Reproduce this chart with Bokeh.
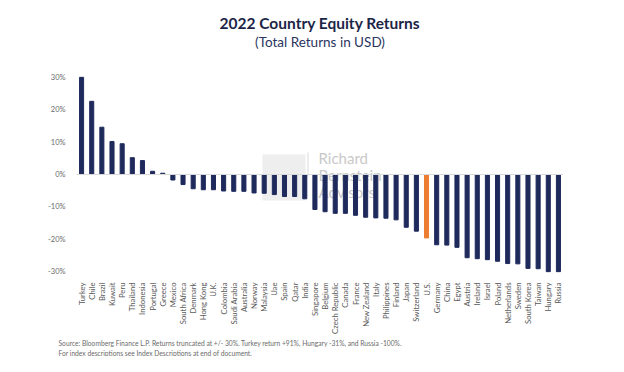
from bokeh.plotting import figure
from bokeh.models import (ColumnDataSource, FixedTicker, PrintfTickFormatter,
                          Span, Label, BoxAnnotation, Title)
from bokeh.embed import file_html
from bokeh.resources import INLINE
import math

countries = ["Turkey", "Chile", "Brazil", "Kuwait", "Peru", "Thailand", "Indonesia",
             "Portugal", "Greece", "Mexico", "South Africa", "Denmark", "Hong Kong",
             "U.K.", "Colombia", "Saudi Arabia", "Australia", "Norway", "Malaysia",
             "Uae", "Spain", "Qatar", "India", "Singapore", "Belgium", "Czech Republic",
             "Canada", "France", "New Zealand", "Italy", "Philippines", "Finland",
             "Japan", "Switzerland", "U.S.", "Germany", "China", "Egypt", "Austria",
             "Ireland", "Israel", "Poland", "Netherlands", "Sweden", "South Korea",
             "Taiwan", "Hungary", "Russia"]
returns = [30.0, 22.6, 14.6, 10.2, 9.5, 5.2, 4.3,
           1.0, 0.4, -1.7, -3.1, -4.4, -4.7,
           -4.7, -5.1, -5.2, -5.2, -5.7, -5.8,
           -6.2, -6.8, -6.8, -7.5, -10.8, -11.5, -12.0,
           -12.0, -12.6, -13.2, -13.4, -13.5, -14.0,
           -16.3, -17.5, -19.6, -21.7, -21.8, -22.5, -25.7,
           -26.0, -26.3, -26.8, -27.5, -27.6, -29.0,
           -29.1, -30.0, -30.0]
highlight = "U.S."
y_ticks = [-30, -20, -10, 0, 10, 20, 30]

title_text = "2022 Country Equity Returns"
subtitle_text = "(Total Returns in USD)"
note1 = "Source: Bloomberg Finance L.P. Returns truncated at +/- 30%. Turkey return +91%, Hungary -31%, and Russia -100%."
note2 = "For index descriptions see Index Descriptions at end of document."
watermark = ["Richard", "Bernstein", "Advisors"]

NAVY = "#1F2A5C"
ORANGE = "#ED7D31"
FONT = "Lato"

colors = [ORANGE if c == highlight else NAVY for c in countries]
src = ColumnDataSource(dict(country=countries, ret=returns, color=colors))

p = figure(x_range=countries, y_range=(-31.5, 31.5), width=608, height=356,
           output_backend="svg", toolbar_location=None,
           min_border_left=76, min_border_right=45, min_border_top=72,
           min_border_bottom=80)
p.x_range.range_padding = 0
p.outline_line_color = None
p.grid.visible = False
p.background_fill_color = "white"

# watermark (underlay, behind bars)
p.add_layout(BoxAnnotation(left=186, right=229, bottom=76, top=122,
                           left_units="screen", right_units="screen",
                           bottom_units="screen", top_units="screen",
                           fill_color="#e2e2e2", fill_alpha=0.6, line_color=None,
                           level="underlay"))
p.add_layout(BoxAnnotation(left=231, right=232, bottom=100, top=124,
                           left_units="screen", right_units="screen",
                           bottom_units="screen", top_units="screen",
                           fill_color="#d0d0d0", fill_alpha=0.8, line_color=None,
                           level="underlay"))
for i, w in enumerate(watermark):
    p.add_layout(Label(x=242, y=110 - i * 17, text=w, x_units="screen",
                       y_units="screen", text_font=FONT, text_color="#c9c9c9",
                       text_font_size="15px", level="underlay"))

p.vbar(x="country", top="ret", bottom=0, width=0.4, color="color", source=src)

p.add_layout(Span(location=0, dimension="width", line_color="#d9d9d9", line_width=1))

p.yaxis.ticker = FixedTicker(ticks=y_ticks)
p.yaxis.formatter = PrintfTickFormatter(format="%d%%")
p.yaxis.axis_line_color = None
p.yaxis.major_tick_line_color = None
p.yaxis.minor_tick_line_color = None
p.yaxis.major_label_text_font = FONT
p.yaxis.major_label_text_font_size = "7.5px"
p.yaxis.major_label_text_color = "#6b6b6b"
p.yaxis.major_label_standoff = 5

p.xaxis.axis_line_color = None
p.xaxis.major_tick_line_color = None
p.xaxis.major_label_orientation = math.pi / 2
p.xaxis.major_label_text_font = FONT
p.xaxis.major_label_text_font_size = "7.7px"
p.xaxis.major_label_text_color = "#595959"
p.xaxis.major_label_standoff = 0

def spacer(s):
    return Title(text=" ", text_font_size="1px", standoff=s)

# above: first added is nearest the frame
p.add_layout(spacer(20), "above")
p.add_layout(Title(text=subtitle_text, align="center", text_font=FONT,
                   text_font_size="13.5px", text_font_style="normal",
                   text_color="#2a3560", standoff=0), "above")
p.add_layout(Title(text=title_text, align="center", text_font=FONT,
                   text_font_size="15.5px", text_font_style="bold",
                   text_color="#1c2547", standoff=0), "above")

p.add_layout(Title(text=note1, align="left", text_font=FONT, text_font_size="6.7px",
                   text_font_style="normal", text_color="#6b6b6b", offset=-18,
                   standoff=0), "below")
p.add_layout(Title(text=note2, align="left", text_font=FONT, text_font_size="6.7px",
                   text_font_style="normal", text_color="#6b6b6b", offset=-18,
                   standoff=0), "below")

open("out.html", "w").write(file_html(p, INLINE))
